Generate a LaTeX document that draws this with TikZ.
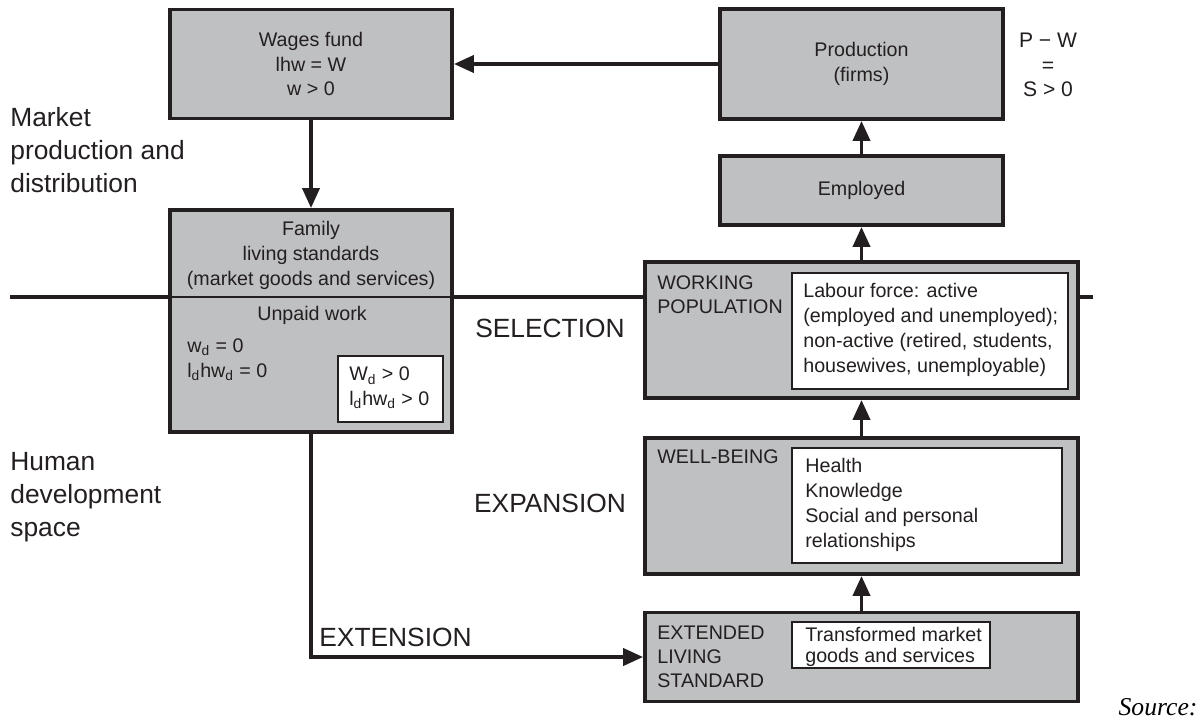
\documentclass[tikz,border=0pt]{standalone}
\usepackage{fontspec}
\setmainfont{Liberation Sans}
\newfontfamily\sourcefont{Liberation Serif}
\usetikzlibrary{arrows.meta}
\definecolor{boxgray}{RGB}{191, 192, 194}
\definecolor{linedark}{RGB}{35, 31, 32}
\definecolor{textdark}{RGB}{35, 31, 32}

\begin{document}
\begin{tikzpicture}[
        x=0.02cm, y=-0.02cm,
        box/.style={rectangle, draw=linedark, line width=2.2pt, fill=boxgray, text=textdark, inner sep=0pt, align=center, font=\fontsize{11.2}{14.2}\selectfont},
        inbox/.style={rectangle, draw=linedark, line width=1.1pt, fill=white, inner sep=0pt},
        boxtext/.style={text=textdark, inner sep=0pt, font=\fontsize{11.2}{14.2}\selectfont},
        captext/.style={text=textdark, inner sep=0pt, align=left, font=\fontsize{11.2}{13.6}\selectfont},
        bigtext/.style={text=textdark, inner sep=0pt, font=\fontsize{15}{18.7}\selectfont},
        flow/.style={-{Triangle[length=0.4cm, width=0.34cm]}, line width=2.2pt, draw=linedark},
        border/.style={line width=2.6pt, draw=linedark}
    ]
    \useasboundingbox (0,0) rectangle (1203,720);

    % Market boxes
    \node[box, minimum width=5.64cm, minimum height=2.18cm] (wages) at (311, 64) {Wages fund\\ lhw = W\\ w > 0};
    \node[box, minimum width=5.66cm, minimum height=2.2cm] (prod) at (861.5, 64) {Production\\ (firms)};
    \node[box, minimum width=5.66cm, minimum height=1.38cm] (employed) at (861.5, 190.5) {Employed};
    \node[boxtext, align=center, font=\fontsize{12}{14}\selectfont] (surplus) at (1048, 65) {P − W\\ =\\ S > 0};

    % Family box
    \node[box, minimum width=5.64cm, minimum height=4.44cm] (family) at (311, 321) {};
    \node[boxtext, align=center] (familytop) at (311, 255) {Family\\ living standards\\ (market goods and services)};
    \node[boxtext] (unpaid) at (312, 315) {Unpaid work};
    \node[boxtext, align=left, anchor=west] (unpaideq) at (187, 359.5) {w\textsubscript{d} = 0\\ l\textsubscript{d}hw\textsubscript{d} = 0};
    \node[inbox, minimum width=2.1cm, minimum height=1.32cm] (famin) at (390.5, 389) {};
    \node[boxtext, align=left, anchor=west] (famineq) at (349, 388) {W\textsubscript{d} > 0\\ l\textsubscript{d}hw\textsubscript{d} > 0};

    % Human development boxes
    \node[box, minimum width=8.66cm, minimum height=2.72cm] (workpop) at (861.5, 330) {};
    \node[captext, anchor=west] (workcap) at (657, 295) {WORKING\\ POPULATION};
    \node[inbox, minimum width=5.52cm, minimum height=2.32cm] (workin) at (930, 331) {};
    \node[boxtext, align=left, anchor=west] (worktext) at (803, 330) {Labour force: active\\ (employed and unemployed);\\ non-active (retired, students,\\ housewives, unemployable)};

    \node[box, minimum width=8.66cm, minimum height=2.72cm] (wellbeing) at (861.5, 506) {};
    \node[captext, anchor=west] (wellcap) at (657, 457) {WELL-BEING};
    \node[inbox, minimum width=5.4cm, minimum height=2.3cm] (wellin) at (927, 505.5) {};
    \node[boxtext, align=left, anchor=west] (welltext) at (805, 505) {Health\\ Knowledge\\ Social and personal\\ relationships};

    \node[box, minimum width=8.66cm, minimum height=1.78cm] (extended) at (861.5, 657) {};
    \node[captext, anchor=west] (extcap) at (657, 657) {EXTENDED\\ LIVING\\ STANDARD};
    \node[inbox, minimum width=3.96cm, minimum height=0.92cm] (extin) at (891, 645) {};
    \node[boxtext, align=left, anchor=west, font=\fontsize{11.2}{11.6}\selectfont] (exttext) at (805, 647) {Transformed market\\ goods and services};

    % Side labels
    \node[bigtext, align=left, anchor=west] (marketlbl) at (10, 150) {Market\\ production and\\ distribution};
    \node[bigtext, align=left, anchor=west] (humanlbl) at (10, 497.5) {Human\\ development\\ space};
    \node[bigtext] (selection) at (550, 328) {SELECTION};
    \node[bigtext] (expansion) at (550, 503) {EXPANSION};
    \node[bigtext] (extension) at (395.5, 637) {EXTENSION};
    \node[inner sep=0pt, text=black, font=\sourcefont\itshape\fontsize{14.6}{16}\selectfont] (source) at (1158, 707) {Source:};

    % Border between the two spaces
    \coordinate (lineL) at (10, 297);
    \coordinate (lineR) at (1093, 297);
    \draw[border] (lineL) -- (lineL -| family.west);
    \draw[border] (lineL -| family.east) -- (lineL -| workpop.west);
    \draw[border] (lineL -| workpop.east) -- (lineR);
    \draw[linedark, line width=1.1pt] (lineL -| family.west) -- (lineL -| family.east);

    % Flows
    \draw[flow] (prod.west) -- (wages.east);
    \draw[flow] (wages.south) -- (family.north);
    \draw[flow] (employed.north) -- (prod.south);
    \draw[flow] (workpop.north) -- (employed.south);
    \draw[flow] (wellbeing.north) -- (workpop.south);
    \draw[flow] (extended.north) -- (wellbeing.south);
    \draw[flow] (family.south) |- (extended.west);

\end{tikzpicture}
\end{document}
